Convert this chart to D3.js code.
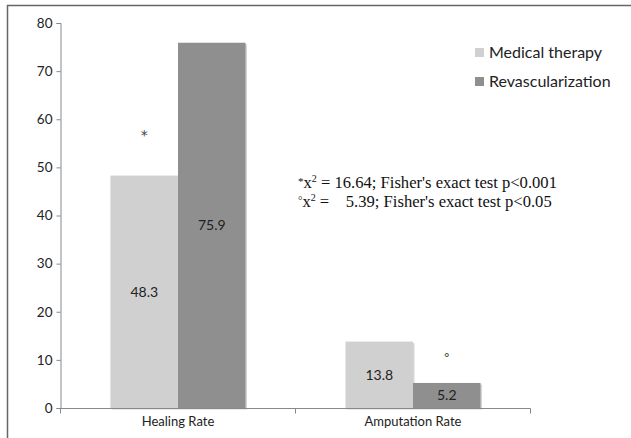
<!DOCTYPE html>
<html><head><meta charset="utf-8">
<script src="https://cdn.jsdelivr.net/npm/d3@7"></script>
<style>body{margin:0;background:#fff;}svg{display:block;}</style>
</head><body>
<svg id="c" width="631" height="438"></svg>
<script>
const categories = ["Healing Rate", "Amputation Rate"];
const seriesNames = ["Medical therapy", "Revascularization"];
const medical = [48.3, 13.8];
const revasc = [75.9, 5.2];
const yTicks = [0, 10, 20, 30, 40, 50, 60, 70, 80];
const markers = [{cat: "Healing Rate", series: 0, sym: "*", val: 57.5}, {cat: "Amputation Rate", series: 1, sym: "°", val: 10.4}];
const notes = ["x² = 16.64; Fisher's exact test p<0.001", "x² =    5.39; Fisher's exact test p<0.05"];

const colors = ["#d0d0d0", "#8f8f8f"];
const svg = d3.select("#c");
svg.append("rect").attr("x", 7.5).attr("y", 5.5).attr("width", 700).attr("height", 500)
  .attr("fill", "none").attr("stroke", "#666").attr("stroke-width", 1.5);

const x0 = d3.scaleBand().domain(categories).range([60.5, 530.5]).paddingInner(0).paddingOuter(0);
const x1 = d3.scaleBand().domain([0, 1]).range([0, x0.bandwidth()]).paddingInner(0).paddingOuter(0.74);
const y = d3.scaleLinear().domain([0, 80]).range([408, 23]);

const data = categories.map((c, i) => ({cat: c, vals: [medical[i], revasc[i]]}));
const g = svg.append("g");
data.forEach(d => {
  d.vals.forEach((v, s) => {
    const bx = x0(d.cat) + x1(s), bw = x1.bandwidth();
    g.append("rect").attr("x", bx + 1.5).attr("y", y(v) + 1.5).attr("width", bw).attr("height", y(0) - y(v))
      .attr("fill", "#bbb").attr("opacity", 0.6);
  });
  d.vals.forEach((v, s) => {
    const bx = x0(d.cat) + x1(s), bw = x1.bandwidth();
    g.append("rect").attr("x", bx).attr("y", y(v)).attr("width", bw).attr("height", y(0) - y(v))
      .attr("fill", colors[s]);
    g.append("text").attr("x", bx + bw / 2).attr("y", (y(v) + y(0)) / 2)
      .attr("dy", "0.35em").attr("text-anchor", "middle")
      .style("font-family", "Lato, 'Open Sans', sans-serif").style("font-size", "14px").attr("fill", "#222")
      .text(v.toFixed(1));
  });
});

const ya = svg.append("g").attr("transform", "translate(60.5,0)")
  .call(d3.axisLeft(y).tickValues(yTicks).tickSize(4).tickPadding(4).tickFormat(d3.format("d")));
ya.select(".domain").attr("stroke", "#888");
ya.selectAll(".tick line").attr("stroke", "#888");
ya.selectAll("text").style("font-family", "Lato, 'Open Sans', sans-serif").style("font-size", "13.5px").attr("fill", "#222");

const xa = svg.append("g").attr("transform", "translate(0,408.5)")
  .call(d3.axisBottom(x0).tickSize(0).tickPadding(8));
xa.select(".domain").remove();
xa.append("line").attr("x1", 60.5).attr("x2", 530.5).attr("stroke", "#888");
[60.5, 295.5, 530.5].forEach(t => xa.append("line").attr("x1", t).attr("x2", t).attr("y1", 0).attr("y2", 5).attr("stroke", "#888"));
xa.selectAll("text").style("font-family", "Lato, 'Open Sans', sans-serif").style("font-size", "13px").attr("fill", "#222");

markers.forEach(m => {
  const bx = x0(m.cat) + x1(m.series) + x1.bandwidth() / 2;
  svg.append("text").attr("x", bx).attr("y", y(m.val)).attr("text-anchor", "middle")
    .attr("dy", m.sym === "*" ? "0.6em" : "0.3em").style("font-family", "'DejaVu Sans', sans-serif").style("font-size", m.sym === "*" ? "14px" : "13px").attr("fill", "#444")
    .text(m.sym);
});

const lg = svg.append("g").attr("transform", "translate(475,48)");
seriesNames.forEach((n, i) => {
  lg.append("rect").attr("x", 0).attr("y", i * 29).attr("width", 9).attr("height", 9).attr("fill", colors[i]);
  lg.append("text").attr("x", 14).attr("y", i * 29 + 4.5).attr("dy", "0.35em")
    .style("font-family", "Lato, 'Open Sans', sans-serif").style("font-size", "16px").attr("fill", "#222").text(n);
});

const syms = ["*", "°"];
notes.forEach((n, i) => {
  const t = svg.append("text").attr("x", 298).attr("y", 188 + i * 19)
    .style("font-family", "'Liberation Serif', 'DejaVu Serif', serif").style("font-size", "16.6px").attr("fill", "#111")
    .attr("xml:space", "preserve").style("white-space", "pre");
  const parts = n.split("²");
  t.append("tspan").style("font-size", "11px").attr("dy", "-3").text(syms[i]);
  t.append("tspan").attr("dy", "3").text(parts[0]);
  t.append("tspan").style("font-size", "10px").attr("dy", "-6").text("2");
  t.append("tspan").attr("dy", "6").text(parts[1]);
});
</script>
</body></html>
